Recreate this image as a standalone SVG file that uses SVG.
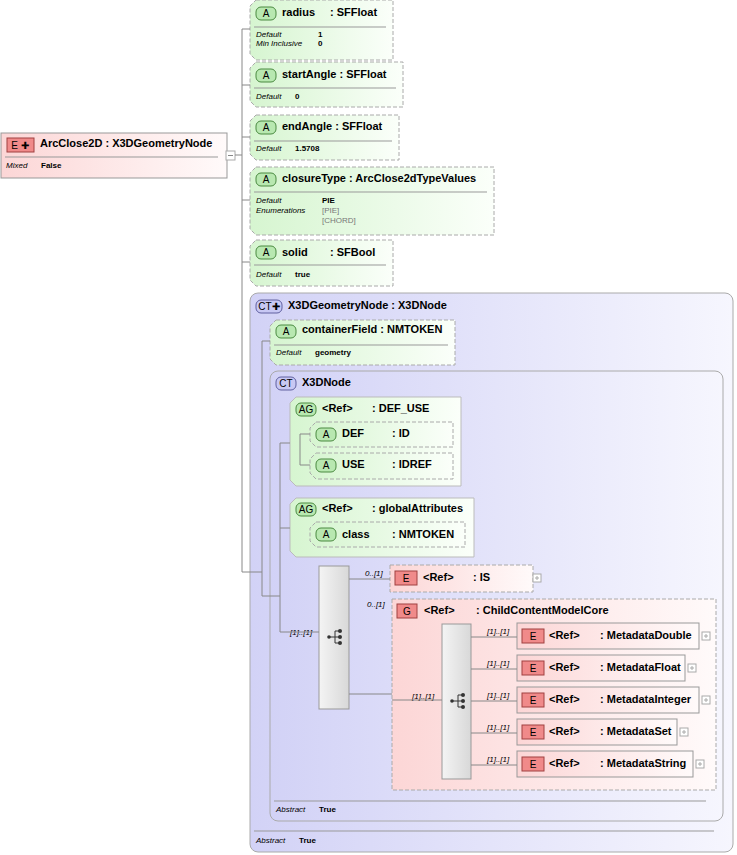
<svg xmlns="http://www.w3.org/2000/svg" width="737" height="855" viewBox="0 0 737 855">
<defs>
<linearGradient id="gA" x1="0" y1="0" x2="1" y2="0"><stop offset="0" stop-color="#d6f5d0"/><stop offset="1" stop-color="#fbfffa"/></linearGradient>
<linearGradient id="gE" x1="0" y1="0" x2="1" y2="0"><stop offset="0" stop-color="#fcd6d6"/><stop offset="1" stop-color="#fffafa"/></linearGradient>
<linearGradient id="gCT" x1="0" y1="0" x2="1" y2="0"><stop offset="0" stop-color="#d2d2f6"/><stop offset="1" stop-color="#f6f6fe"/></linearGradient>
<linearGradient id="gS" x1="0" y1="0" x2="1" y2="0"><stop offset="0" stop-color="#f4f4f4"/><stop offset="1" stop-color="#d8d8d8"/></linearGradient>
<g id="seqIcon"><circle cx="-6" cy="0" r="1.8" fill="#333"/><path d="M-6 0H0M0 -6V6M0 -6H5M0 0H5M0 6H5" stroke="#333" fill="none"/><circle cx="5" cy="-6" r="2" fill="#333"/><circle cx="5" cy="0" r="2" fill="#333"/><circle cx="5" cy="6" r="2" fill="#333"/></g>
</defs>
<style>
text{font-family:"Liberation Sans",Arial,sans-serif;fill:#000}
.t{font-size:11px;font-weight:bold}
.s{font-size:8px;font-style:italic}
.v{font-size:8px;font-weight:bold}
.g{font-size:8px;fill:#777}
.att{fill:url(#gA);stroke:#aaa;stroke-dasharray:4,2}
.el{fill:url(#gE);stroke:#999}
.eld{fill:url(#gE);stroke:#aaa;stroke-dasharray:4,2}
.ct{fill:url(#gCT);stroke:#aaa}
.agb{fill:url(#gA);stroke:#bbb}
.sep{stroke:#999}
.bA{fill:#b8e8b0;stroke:#4a8a40}
.bE{fill:#f08a8a;stroke:#a04040}
.bC{fill:#c8c8f4;stroke:#6060a0}
.bt{font-size:10px;text-anchor:middle}
.ln{stroke:#888;fill:none}
.pl{fill:#fff;stroke:#aaa}
</style>
<g id="root">
<rect x="1" y="133" width="226" height="45" class="el"/>
<line x1="5" y1="157" x2="218" y2="157" class="sep"/>
<rect x="7" y="138" width="27" height="14" class="bE"/><text x="20" y="149" class="bt">E ✚</text>
<text x="40" y="147" class="t">ArcClose2D : X3DGeometryNode</text>
<text x="6" y="168" class="s">Mixed</text><text x="41" y="168" class="v">False</text>
<rect x="226" y="151" width="9" height="9" class="pl"/><path d="M228 155.5H233" stroke="#888"/>
</g>
<g id="radius">
<path d="M256 0H393V60H256L250 54V6Z" class="att"/>
<rect x="256" y="7" width="20" height="13" rx="5" class="bA"/><text x="266" y="17" class="bt">A</text>
<text x="282" y="16" class="t">radius</text><text x="330" y="16" class="t">: SFFloat</text>
<line x1="254" y1="27" x2="386" y2="27" class="sep"/>
<text x="256" y="37" class="s">Default</text><text x="318" y="37" class="v">1</text>
<text x="256" y="46" class="s">Min Inclusive</text><text x="318" y="46" class="v">0</text>
</g>
<g id="startAngle">
<path d="M256 62H403V107H256L250 101V68Z" class="att"/>
<rect x="256" y="69" width="20" height="13" rx="5" class="bA"/><text x="266" y="79" class="bt">A</text>
<text x="282" y="78" class="t">startAngle : SFFloat</text>
<line x1="254" y1="88" x2="396" y2="88" class="sep"/>
<text x="256" y="99" class="s">Default</text><text x="295" y="99" class="v">0</text>
</g>
<g id="endAngle">
<path d="M256 115H399V160H256L250 154V121Z" class="att"/>
<rect x="256" y="121" width="20" height="13" rx="5" class="bA"/><text x="266" y="131" class="bt">A</text>
<text x="282" y="130" class="t">endAngle : SFFloat</text>
<line x1="254" y1="141" x2="392" y2="141" class="sep"/>
<text x="256" y="151" class="s">Default</text><text x="295" y="151" class="v">1.5708</text>
</g>
<g id="closureType">
<path d="M256 167H494V235H256L250 229V173Z" class="att"/>
<rect x="256" y="173" width="20" height="13" rx="5" class="bA"/><text x="266" y="183" class="bt">A</text>
<text x="282" y="182" class="t">closureType : ArcClose2dTypeValues</text>
<line x1="254" y1="192" x2="487" y2="192" class="sep"/>
<text x="256" y="203" class="s">Default</text><text x="322" y="203" class="v">PIE</text>
<text x="256" y="213" class="s">Enumerations</text><text x="322" y="213" class="g">[PIE]</text>
<text x="322" y="223" class="g">[CHORD]</text>
</g>
<g id="solid">
<path d="M256 240H393V286H256L250 280V246Z" class="att"/>
<rect x="256" y="246" width="20" height="13" rx="5" class="bA"/><text x="266" y="256" class="bt">A</text>
<text x="282" y="256" class="t">solid</text><text x="330" y="256" class="t">: SFBool</text>
<line x1="254" y1="265" x2="386" y2="265" class="sep"/>
<text x="256" y="277" class="s">Default</text><text x="295" y="277" class="v">true</text>
</g>
<g id="X3DGeometryNode">
<rect x="250" y="293" width="483" height="559" rx="8" class="ct"/>
<rect x="256" y="300" width="26" height="13" rx="5" class="bC"/><text x="269" y="310" class="bt">CT✚</text>
<text x="288" y="309" class="t">X3DGeometryNode : X3DNode</text>
<line x1="254" y1="831" x2="714" y2="831" class="sep"/>
<text x="256" y="843" class="s">Abstract</text><text x="299" y="843" class="v">True</text>
</g>
<g id="containerField">
<path d="M276 320H455V365H276L270 359V326Z" class="att"/>
<rect x="276" y="325" width="20" height="13" rx="5" class="bA"/><text x="286" y="335" class="bt">A</text>
<text x="302" y="333" class="t">containerField : NMTOKEN</text>
<line x1="274" y1="345" x2="448" y2="345" class="sep"/>
<text x="276" y="355" class="s">Default</text><text x="315" y="355" class="v">geometry</text>
</g>
<g id="X3DNode">
<rect x="270" y="371" width="453" height="450" rx="8" class="ct"/>
<rect x="276" y="377" width="20" height="13" rx="5" class="bC"/><text x="286" y="387" class="bt">CT</text>
<text x="302" y="386" class="t">X3DNode</text>
<line x1="274" y1="801" x2="706" y2="801" class="sep"/>
<text x="276" y="812" class="s">Abstract</text><text x="319" y="812" class="v">True</text>
</g>
<g id="DEF_USE">
<path d="M296 397H461V486H296L290 480V403Z" class="agb"/>
<rect x="296" y="403" width="20" height="13" rx="5" class="bA"/><text x="306" y="413" class="bt">AG</text>
<text x="322" y="412" class="t">&lt;Ref&gt;</text><text x="372" y="412" class="t">: DEF_USE</text>
</g>
<g id="DEF">
<path d="M316 422H453V447H316L310 441V428Z" class="att"/>
<rect x="316" y="428" width="20" height="13" rx="5" class="bA"/><text x="326" y="438" class="bt">A</text>
<text x="342" y="437" class="t">DEF</text><text x="392" y="437" class="t">: ID</text>
</g>
<g id="USE">
<path d="M316 453H453V479H316L310 473V459Z" class="att"/>
<rect x="316" y="459" width="20" height="13" rx="5" class="bA"/><text x="326" y="469" class="bt">A</text>
<text x="342" y="468" class="t">USE</text><text x="392" y="468" class="t">: IDREF</text>
</g>
<g id="globalAttributes">
<path d="M296 498H474V557H296L290 551V504Z" class="agb"/>
<rect x="296" y="503" width="20" height="13" rx="5" class="bA"/><text x="306" y="513" class="bt">AG</text>
<text x="322" y="512" class="t">&lt;Ref&gt;</text><text x="372" y="512" class="t">: globalAttributes</text>
</g>
<g id="class">
<path d="M316 522H465V547H316L310 541V528Z" class="att"/>
<rect x="316" y="528" width="20" height="13" rx="5" class="bA"/><text x="326" y="538" class="bt">A</text>
<text x="342" y="538" class="t">class</text><text x="392" y="538" class="t">: NMTOKEN</text>
</g>
<g id="seq1">
<rect x="319" y="566" width="30" height="143" fill="url(#gS)" stroke="#999"/>
<use href="#seqIcon" x="335" y="637"/>
<text x="290" y="635" class="s">[1]..[1]</text>
</g>
<g id="IS">
<rect x="390" y="565" width="143" height="27" class="eld"/>
<rect x="395" y="571" width="22" height="14" class="bE"/><text x="406" y="582" class="bt">E</text>
<text x="423" y="581" class="t">&lt;Ref&gt;</text><text x="473" y="581" class="t">: IS</text>
<rect x="533" y="574" width="8" height="8" class="pl"/><path d="M535 578H539M537 576V580" stroke="#aaa"/>
<text x="365" y="576" class="s">0..[1]</text>
</g>
<g id="ChildContentModelCore">
<rect x="392" y="599" width="324" height="191" class="eld"/>
<rect x="397" y="604" width="20" height="14" class="bE"/><text x="407" y="615" class="bt">G</text>
<text x="424" y="614" class="t">&lt;Ref&gt;</text><text x="476" y="614" class="t">: ChildContentModelCore</text>
<text x="367" y="607" class="s">0..[1]</text>
<text x="412" y="699" class="s">[1]..[1]</text>
</g>
<g id="seq2">
<rect x="442" y="624" width="29" height="155" fill="url(#gS)" stroke="#999"/>
<use href="#seqIcon" x="458" y="701"/>
</g>
<g id="MetadataDouble">
<rect x="517" y="623" width="182" height="26" class="el"/>
<rect x="522" y="629" width="22" height="14" class="bE"/><text x="533" y="640" class="bt">E</text>
<text x="549" y="639" class="t">&lt;Ref&gt;</text><text x="600" y="639" class="t">: MetadataDouble</text>
<rect x="702" y="632" width="8" height="8" class="pl"/><path d="M704 636H708M706 634V638" stroke="#aaa"/>
<text x="487" y="634" class="s">[1]..[1]</text>
</g>
<g id="MetadataFloat">
<rect x="517" y="655" width="168" height="26" class="el"/>
<rect x="522" y="661" width="22" height="14" class="bE"/><text x="533" y="672" class="bt">E</text>
<text x="549" y="671" class="t">&lt;Ref&gt;</text><text x="600" y="671" class="t">: MetadataFloat</text>
<rect x="688" y="664" width="8" height="8" class="pl"/><path d="M690 668H694M692 666V670" stroke="#aaa"/>
<text x="487" y="666" class="s">[1]..[1]</text>
</g>
<g id="MetadataInteger">
<rect x="517" y="687" width="182" height="26" class="el"/>
<rect x="522" y="693" width="22" height="14" class="bE"/><text x="533" y="704" class="bt">E</text>
<text x="549" y="703" class="t">&lt;Ref&gt;</text><text x="600" y="703" class="t">: MetadataInteger</text>
<rect x="702" y="696" width="8" height="8" class="pl"/><path d="M704 700H708M706 698V702" stroke="#aaa"/>
<text x="487" y="698" class="s">[1]..[1]</text>
</g>
<g id="MetadataSet">
<rect x="517" y="719" width="160" height="26" class="el"/>
<rect x="522" y="725" width="22" height="14" class="bE"/><text x="533" y="736" class="bt">E</text>
<text x="549" y="735" class="t">&lt;Ref&gt;</text><text x="600" y="735" class="t">: MetadataSet</text>
<rect x="680" y="728" width="8" height="8" class="pl"/><path d="M682 732H686M684 730V734" stroke="#aaa"/>
<text x="487" y="730" class="s">[1]..[1]</text>
</g>
<g id="MetadataString">
<rect x="517" y="751" width="176" height="26" class="el"/>
<rect x="522" y="757" width="22" height="14" class="bE"/><text x="533" y="768" class="bt">E</text>
<text x="549" y="767" class="t">&lt;Ref&gt;</text><text x="600" y="767" class="t">: MetadataString</text>
<rect x="696" y="760" width="8" height="8" class="pl"/><path d="M698 764H702M700 762V766" stroke="#aaa"/>
<text x="487" y="762" class="s">[1]..[1]</text>
</g>
<g id="connectors" class="ln">
<path d="M235 155H242M242 29V572M242 29H250M242 85H250M242 137H250M242 200H250M242 262H250"/>
<path d="M242 572H262M262 341V596M262 341H270M262 596H280"/>
<path d="M280 443V632M280 443H290M280 528H290M280 632H319M300 434V465M300 434H310M300 465H310"/>
<path d="M349 579H390M349 694H392M392 700H442"/>
<path d="M471 637H517M471 669H517M471 701H517M471 733H517M471 765H517"/>
</g>
</svg>
